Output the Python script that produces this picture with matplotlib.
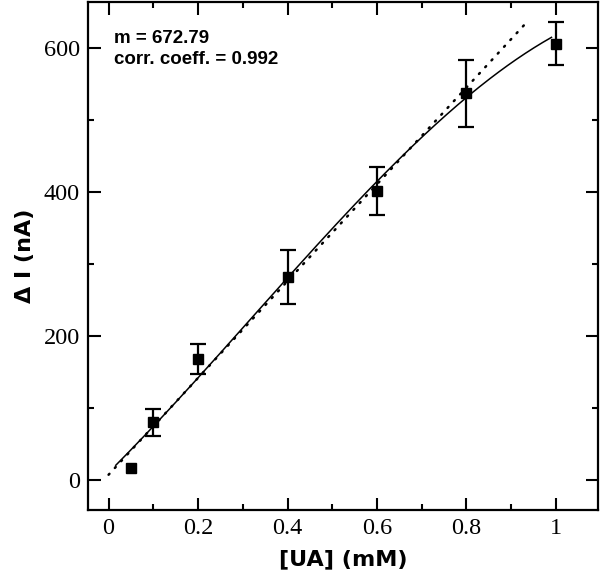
import numpy as np
import matplotlib as mpl
mpl.use("Agg")
import matplotlib.pyplot as plt
from matplotlib.ticker import MultipleLocator

# measured points (x in mM, y in nA); first point has no error bar
conc = [0.05, 0.1, 0.2, 0.4, 0.6, 0.8, 1.0]
delta_i = [16, 80, 168, 282, 401, 537, 606]
err = [0, 19, 21, 38, 33, 47, 30]

# linear fit
slope = 672.79
intercept = 7
fit_x_range = [0.0, 0.935]

curve_x = [0.016, 0.2, 0.4, 0.6, 0.8, 0.99]
curve_y = [18.5, 146, 279, 410, 537, 613]

xticks = [0, 0.2, 0.4, 0.6, 0.8, 1]
xticklabels = ["0", "0.2", "0.4", "0.6", "0.8", "1"]
yticks = [0, 200, 400, 600]

fig = plt.figure(figsize=(6, 5.73), dpi=100)
ax = fig.add_axes([88/600, 63/573, 510/600, 508/573])

# dotted linear fit
lx = np.linspace(fit_x_range[0], fit_x_range[1], 100)
ax.plot(lx, slope*lx + intercept, color="black", lw=1.8, linestyle=(0, (0.5, 3.2)),
        dash_capstyle="round")

# solid curve (smooth cubic through the read points)
coef = np.polyfit(curve_x, curve_y, 3)
cx = np.linspace(curve_x[0], curve_x[-1], 200)
ax.plot(cx, np.polyval(coef, cx), color="black", lw=1.1)

conc_a = np.array(conc)
y_a = np.array(delta_i)
err_a = np.array(err)
has_err = err_a > 0
ax.errorbar(conc_a[has_err], y_a[has_err], yerr=err_a[has_err], fmt="s",
            color="black", ms=7.5, ecolor="black", elinewidth=1.6,
            capsize=6, capthick=1.6)
ax.plot(conc_a[~has_err], y_a[~has_err], "s", color="black", ms=7.5)

ax.set_xlim(-0.046, 1.094)
ax.set_ylim(-42, 664)

ax.set_xticks(xticks)
ax.set_xticklabels(xticklabels)
ax.set_yticks(yticks)
ax.xaxis.set_minor_locator(MultipleLocator(0.1))
ax.yaxis.set_minor_locator(MultipleLocator(100))
ax.tick_params(which="both", direction="in", top=True, right=True, width=1.5)
ax.tick_params(which="major", length=9, pad=6)
ax.tick_params(which="minor", length=4.5)
for lab in ax.get_xticklabels() + ax.get_yticklabels():
    lab.set_fontfamily("Liberation Serif")
    lab.set_fontsize(17.5)
for s in ax.spines.values():
    s.set_linewidth(1.6)

ax.set_xlabel("[UA] (mM)", fontfamily="DejaVu Sans", fontweight="bold",
              fontsize=16, labelpad=7)
ax.set_ylabel("Δ I (nA)", fontfamily="DejaVu Sans", fontweight="bold",
              fontsize=16, labelpad=6)

ax.text(0.051, 0.945, "m = 672.79\ncorr. coeff. = 0.992", transform=ax.transAxes,
        ha="left", va="top", fontfamily="Liberation Sans", fontweight="bold",
        fontsize=13.5, linespacing=1.35)

fig.savefig("out.png", dpi=100)
